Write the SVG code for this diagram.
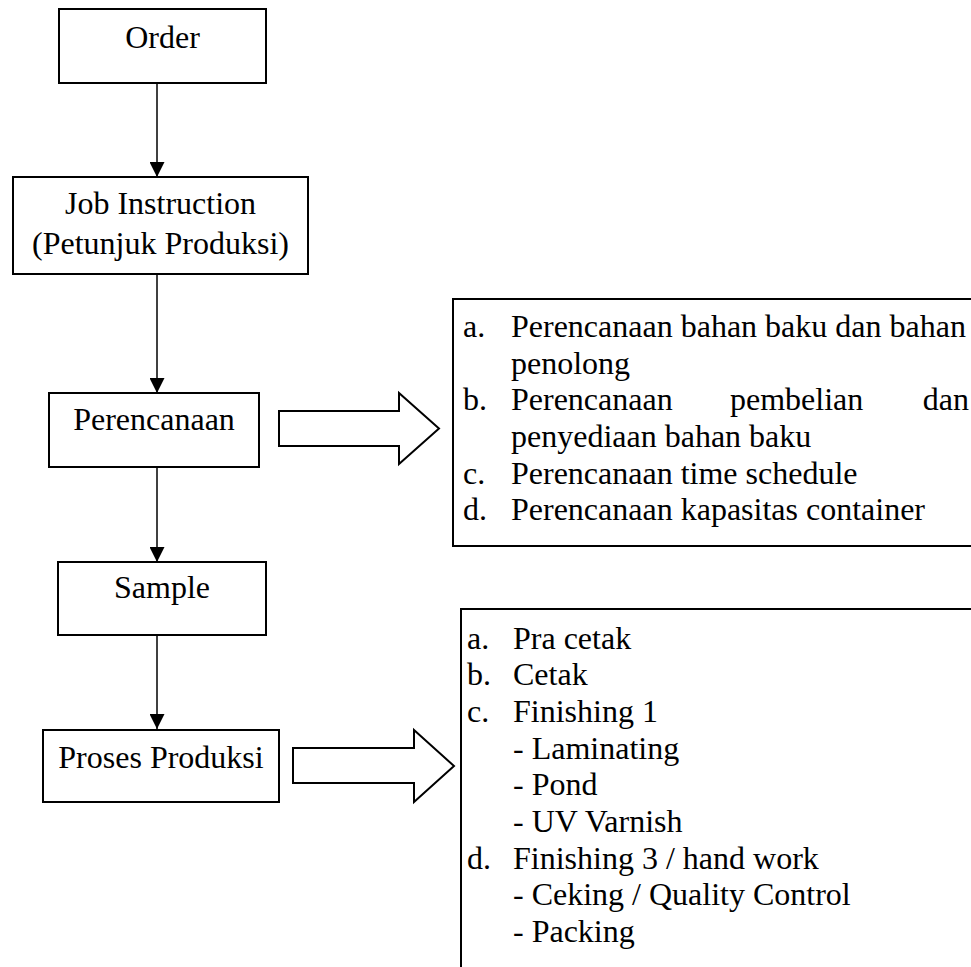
<svg xmlns="http://www.w3.org/2000/svg" width="971" height="967" viewBox="0 0 971 967">
<style>
.box{fill:#fff;stroke:#000;stroke-width:2}
.t{font-family:"Liberation Serif","Times New Roman",serif;font-size:32px;fill:#000}
.c{text-anchor:middle}
.e{text-anchor:end}
.ln{stroke:#000;stroke-width:1.5;fill:none}
.blk{fill:#fff;stroke:#000;stroke-width:2;stroke-linejoin:miter}
</style>
<defs>
<marker id="ah" markerWidth="15" markerHeight="15" viewBox="0 0 15 15" refX="15" refY="7.5" orient="auto" markerUnits="userSpaceOnUse">
<path d="M0,0 L15,7.5 L0,15 Z" fill="#000"/>
</marker>
</defs>
<rect width="971" height="967" fill="#fff"/>
<g id="connectors">
<line class="ln" x1="157" y1="83" x2="157" y2="177" marker-end="url(#ah)"/>
<line class="ln" x1="157" y1="274" x2="157" y2="393" marker-end="url(#ah)"/>
<line class="ln" x1="157" y1="467" x2="157" y2="562" marker-end="url(#ah)"/>
<line class="ln" x1="157" y1="635" x2="157" y2="729" marker-end="url(#ah)"/>
<polygon class="blk" points="279,411 399,411 399,393 439,428.5 399,464 399,446 279,446"/>
<polygon class="blk" points="293,748 414,748 414,730 454,766 414,802 414,783 293,783"/>
</g>
<g id="order">
<rect class="box" x="59" y="9" width="207" height="74"/>
<text class="t c" x="162.5" y="48">Order</text>
</g>
<g id="job-instruction">
<rect class="box" x="13" y="177" width="295" height="97"/>
<text class="t c" x="160.5" y="214">Job Instruction</text>
<text class="t c" x="160.5" y="254">(Petunjuk Produksi)</text>
</g>
<g id="perencanaan">
<rect class="box" x="49" y="393" width="210" height="74"/>
<text class="t c" x="154" y="430">Perencanaan</text>
</g>
<g id="sample">
<rect class="box" x="58" y="562" width="208" height="73"/>
<text class="t c" x="162" y="598">Sample</text>
</g>
<g id="proses-produksi">
<rect class="box" x="43" y="730" width="236" height="72"/>
<text class="t c" x="161" y="768">Proses Produksi</text>
</g>
<g id="perencanaan-list">
<rect class="box" x="453" y="299" width="600" height="247"/>
<text class="t" x="463" y="337">a.</text>
<text class="t" x="511" y="337">Perencanaan bahan baku dan bahan</text>
<text class="t" x="511" y="373.7">penolong</text>
<text class="t" x="463" y="410.3">b.</text>
<text class="t" x="511" y="410.3">Perencanaan</text>
<text class="t" x="730" y="410.3">pembelian</text>
<text class="t e" x="969" y="410.3">dan</text>
<text class="t" x="511" y="447">penyediaan bahan baku</text>
<text class="t" x="463" y="483.7">c.</text>
<text class="t" x="511" y="483.7">Perencanaan time schedule</text>
<text class="t" x="463" y="520.3">d.</text>
<text class="t" x="511" y="520.3">Perencanaan kapasitas container</text>
</g>
<g id="produksi-list">
<rect class="box" x="461" y="609" width="600" height="400"/>
<text class="t" x="467" y="648.7">a.</text>
<text class="t" x="513" y="648.7">Pra cetak</text>
<text class="t" x="467" y="685.3">b.</text>
<text class="t" x="513" y="685.3">Cetak</text>
<text class="t" x="467" y="722">c.</text>
<text class="t" x="513" y="722">Finishing 1</text>
<text class="t" x="513" y="758.7">- Laminating</text>
<text class="t" x="513" y="795.3">- Pond</text>
<text class="t" x="513" y="832">- UV Varnish</text>
<text class="t" x="467" y="868.7">d.</text>
<text class="t" x="513" y="868.7">Finishing 3 / hand work</text>
<text class="t" x="513" y="905.3">- Ceking / Quality Control</text>
<text class="t" x="513" y="942">- Packing</text>
</g>
</svg>
